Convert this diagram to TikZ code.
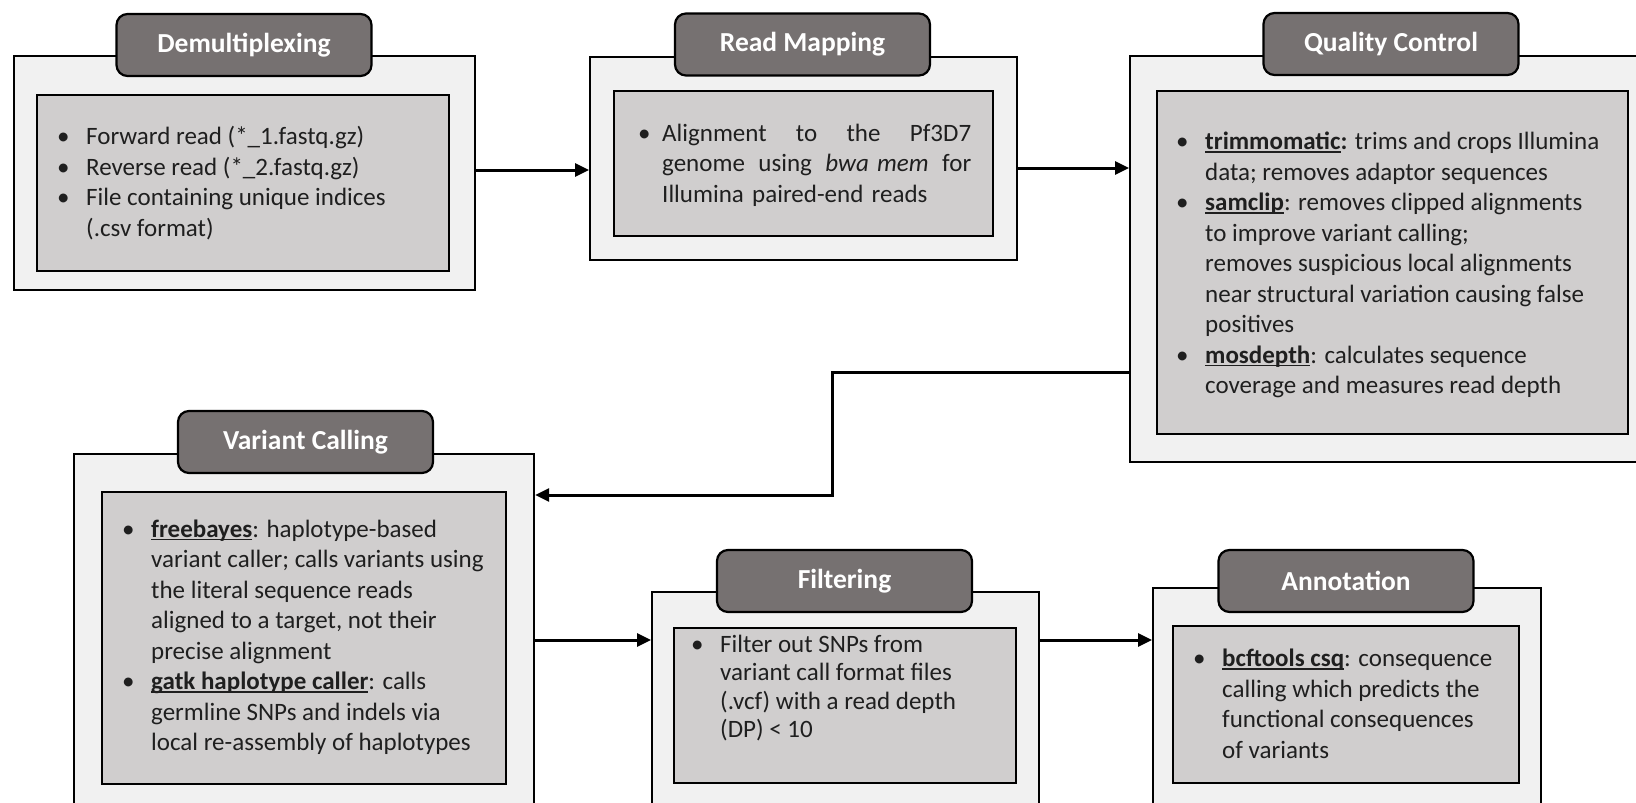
\documentclass[tikz,border=0pt]{standalone}
\usepackage{fontspec}
\setmainfont{Carlito}
\usetikzlibrary{arrows.meta}
\definecolor{outerfill}{HTML}{F1F1F1}
\definecolor{innerfill}{HTML}{D0CECE}
\definecolor{headfill}{HTML}{767171}
\newlength\toolw
\newcommand\tool[1]{\settowidth\toolw{\bfseries #1}\rlap{\rule[-3pt]{\toolw}{1.5pt}}\textbf{#1}}
\newcommand\bul{\llap{\makebox[29pt][l]{•}}}
\newcommand\bulnear{\llap{\makebox[24pt][l]{•}}}
\newcommand\bodyfont{\fontsize{25}{30.5}\selectfont}
\newcommand\tightfont{\fontsize{25}{28.5}\selectfont}
\newcommand\headfont{\fontsize{27.5}{33}\selectfont\bfseries}
\tikzset{
  outerbox/.style={draw=black, line width=2.2pt, fill=outerfill, inner sep=0pt, anchor=north west},
  innerbox/.style={draw=black, line width=2.2pt, fill=innerfill, inner sep=0pt, anchor=north west},
  headbox/.style={draw=black, line width=2.2pt, fill=headfill, rounded corners=11pt, text=white,
    font=\headfont, inner sep=0pt, minimum width=255pt, minimum height=62pt},
  bodytext/.style={anchor=west, align=left, font=\bodyfont, inner sep=0pt, text=black!88},
  flow/.style={line width=3pt, -{Triangle[length=14pt,width=13pt]}}
}
\begin{document}
\begin{tikzpicture}[x=1pt,y=-1pt]
\path[use as bounding box] (0,0) rectangle (1636,803);
\clip (0,0) rectangle (1636,803);

% Demultiplexing
\node[outerbox, minimum width=461.5pt, minimum height=234pt] (demux) at (12.5,55) {};
\node[innerbox, minimum width=412pt, minimum height=176pt] (demuxin) at (36,94) {};
\node[headbox] (demuxhd) at (244,45) {Demultiplexing};
\node[bodytext] (demuxtx) at (86,183) {\bul Forward read (*\_1.fastq.gz)\\
\bul Reverse read (*\_2.fastq.gz)\\
\bul File containing unique indices\\
(.csv format)};

% Read Mapping
\node[outerbox, minimum width=427pt, minimum height=203pt] (rm) at (589,56) {};
\node[innerbox, minimum width=379pt, minimum height=145pt] (rmin) at (613,90) {};
\node[headbox] (rmhd) at (802.5,44.5) {Read Mapping};
\node[bodytext, text width=309pt] (rmtx) at (662,165) {\bulnear Alignment\hfill to\hfill the\hfill Pf3D7\\
genome\hfill using\hfill \textit{bwa mem}\hfill for\\
Illumina paired-end reads};

% Quality Control
\node[outerbox, minimum width=524pt, minimum height=406pt] (qc) at (1129,55) {};
\node[innerbox, minimum width=471pt, minimum height=343pt] (qcin) at (1156,90) {};
\node[headbox] (qchd) at (1391,44) {Quality Control};
\node[bodytext] (qctx) at (1205,265) {\bul \tool{trimmomatic}\textbf{:} trims and crops Illumina\\
data; removes adaptor sequences\\
\bul \tool{samclip}: removes clipped alignments\\
to improve variant calling;\\
removes suspicious local alignments\\
near structural variation causing false\\
positives\\
\bul \tool{mosdepth}: calculates sequence\\
coverage and measures read depth};

% Variant Calling
\node[outerbox, minimum width=460pt, minimum height=400pt] (vc) at (73,453) {};
\node[innerbox, minimum width=404pt, minimum height=292pt] (vcin) at (101,491) {};
\node[headbox] (vchd) at (305.5,442) {Variant Calling};
\node[bodytext] (vctx) at (151,637) {\bul \tool{freebayes}: haplotype-based\\
variant caller; calls variants using\\
the literal sequence reads\\
aligned to a target, not their\\
precise alignment\\
\bul \tool{gatk haplotype caller}: calls\\
germline SNPs and indels via\\
local re-assembly of haplotypes};

% Filtering
\node[outerbox, minimum width=387pt, minimum height=300pt] (filt) at (651,591) {};
\node[innerbox, minimum width=342pt, minimum height=155pt] (filtin) at (673,627) {};
\node[headbox] (filthd) at (844.5,581) {Filtering};
\node[bodytext, font=\tightfont] (filttx) at (720,688) {\bul Filter out SNPs from\\
variant call format files\\
(.vcf) with a read depth\\
(DP) < 10};

% Annotation
\node[outerbox, minimum width=388pt, minimum height=300pt] (ann) at (1152,587) {};
\node[innerbox, minimum width=346pt, minimum height=157pt] (annin) at (1172,625) {};
\node[headbox] (annhd) at (1346,581) {Annotation};
\node[bodytext] (anntx) at (1222,704) {\bul \tool{bcftools csq}: consequence\\
calling which predicts the\\
functional consequences\\
of variants};

% connectors
\coordinate (lvA) at (0,170);
\coordinate (lvB) at (0,168);
\coordinate (qcout) at (0,372);
\coordinate (bend) at (832,495);
\coordinate (lvC) at (0,640);
\draw[flow] (demux.east |- lvA) -- (rm.west |- lvA);
\draw[flow] (rm.east |- lvB) -- (qc.west |- lvB);
\draw[flow] (qc.west |- qcout) -| (bend) -- (vc.east |- bend);
\draw[flow] (vc.east |- lvC) -- (filt.west |- lvC);
\draw[flow] (filt.east |- lvC) -- (ann.west |- lvC);
\end{tikzpicture}
\end{document}
